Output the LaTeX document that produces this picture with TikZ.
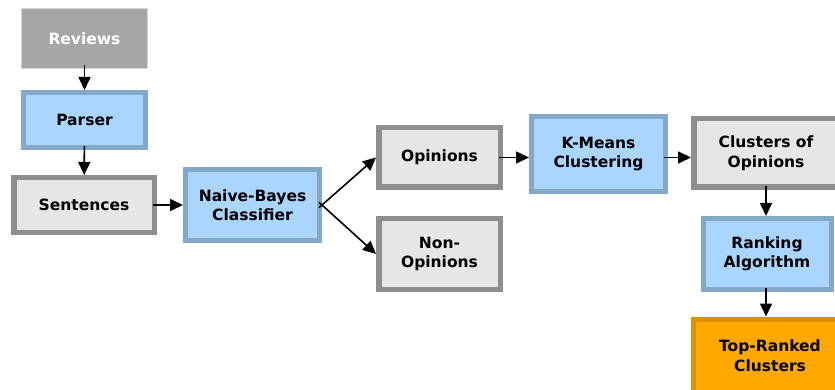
\documentclass[tikz,border=0pt]{standalone}
\usepackage{fontspec}
\setmainfont{DejaVu Sans}
\usetikzlibrary{arrows.meta}
\definecolor{bluefill}{HTML}{AAD5FF}
\definecolor{blueline}{HTML}{84A8C8}
\definecolor{grayfill}{HTML}{E6E6E6}
\definecolor{grayline}{HTML}{8E8E8E}
\definecolor{orangefill}{HTML}{FFA800}
\definecolor{orangeline}{HTML}{DE9100}
\definecolor{srcfill}{HTML}{A6A6A6}
\definecolor{srcline}{HTML}{D6D6D6}
\tikzset{
  box/.style={rectangle, inner sep=0pt, align=center, font=\fontsize{15.5}{19.5}\selectfont\bfseries, text=black},
  bluebox/.style={box, draw=blueline, fill=bluefill, line width=5pt},
  graybox/.style={box, draw=grayline, fill=grayfill, line width=5.5pt},
  orangebox/.style={box, draw=orangeline, fill=orangefill, line width=5pt},
  srcbox/.style={box, draw=srcline, fill=srcfill, line width=1pt, text=white},
  flow/.style={line width=1.6pt, -{Triangle[length=13pt,width=12pt]}, shorten <=-4pt},
}
\begin{document}
\begin{tikzpicture}[x=1pt,y=-1pt]
\useasboundingbox (0,0) rectangle (835,390);
\clip (0,0) rectangle (835,390);
\node[srcbox, minimum width=126pt, minimum height=60pt] (rev) at (84.5,38.5) {Reviews};
\node[bluebox, minimum width=122pt, minimum height=55pt] (par) at (84.5,120) {Parser};
\node[graybox, minimum width=140.5pt, minimum height=54.5pt] (sen) at (84,205) {Sentences};
\node[bluebox, minimum width=134pt, minimum height=71pt] (nb) at (252.5,205) {Naive-Bayes\\Classifier};
\node[graybox, minimum width=121.5pt, minimum height=59.5pt] (op) at (439.5,157.5) {Opinions};
\node[graybox, minimum width=121.5pt, minimum height=70.5pt] (nop) at (439.5,254) {Non-\\Opinions};
\node[bluebox, minimum width=134pt, minimum height=75pt] (km) at (598.5,154) {K-Means\\Clustering};
\node[graybox, minimum width=144.5pt, minimum height=68.5pt] (cl) at (766,153) {Clusters of\\Opinions};
\node[bluebox, minimum width=128pt, minimum height=71pt] (rk) at (767,254) {Ranking\\Algorithm};
\node[orangebox, minimum width=153pt, minimum height=73pt] (top) at (770,355.5) {Top-Ranked\\Clusters};
\draw[flow] (rev) -- (par);
\draw[flow] (par) -- (sen);
\draw[flow] (sen) -- (nb);
\draw[flow] (nb.east) -- (op.west);
\draw[flow] (nb.east) -- (nop.west);
\draw[flow] (op.east) -- (op.east -| km.west);
\draw[flow] (op.east -| km.east) -- (op.east -| cl.west);
\draw[flow] (cl.south) -- (cl.south |- rk.north);
\draw[flow] (cl.south |- rk.south) -- (cl.south |- top.north);
\end{tikzpicture}
\end{document}
